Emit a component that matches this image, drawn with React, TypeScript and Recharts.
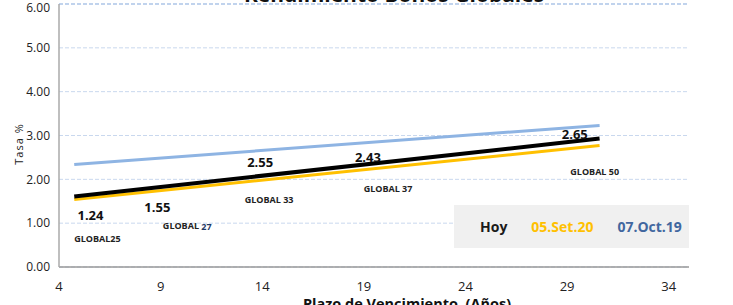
import React from "react";
import {
  ComposedChart,
  Line,
  Scatter,
  XAxis,
  YAxis,
  CartesianGrid,
  Legend,
  ReferenceLine,
} from "recharts";

// Trend lines (start / end of each curve)
const trendX = [4.75, 30.6];
const hoyVals = [1.61, 2.93];
const set20Vals = [1.54, 2.77];
const oct19Vals = [2.34, 3.23];

// Yield labels of today's bonds
const yieldText = ["1.24", "1.55", "2.55", "2.43", "2.65"];
const yieldX = [5.55, 8.84, 13.9, 19.2, 29.38];
const yieldY = [1.19, 1.37, 2.4, 2.51, 3.03];

// Bond names
const bondPrefix = ["GLOBAL25", "GLOBAL ", "GLOBAL 33", "GLOBAL 37", "GLOBAL 50"];
const bondSuffix = ["", "27", "", "", ""];
const bondX = [5.89, 10.31, 14.34, 20.19, 30.36];
const bondY = [0.66, 0.94, 1.55, 1.8, 2.19];

const xTicks = [4, 9, 14, 19, 24, 29, 34];
const yTicks = [0, 1, 2, 3, 4, 5, 6];

const seriesNames = ["Hoy", "05.Set.20", "07.Oct.19"];
const legendTextColors = ["#1a1a1a", "#FFC000", "#41679F"];

const FONT = "'Open Sans', sans-serif";

const lineData = trendX.map((x, i) => ({
  x,
  hoy: hoyVals[i],
  set20: set20Vals[i],
  oct19: oct19Vals[i],
}));

const yieldPts = yieldText.map((t, i) => ({ x: yieldX[i], y: yieldY[i], label: t }));
const bondPts = bondPrefix.map((p, i) => ({
  x: bondX[i],
  y: bondY[i],
  prefix: p,
  suffix: bondSuffix[i],
}));

const YieldShape = (props: any) => (
  <text
    x={props.cx}
    y={props.cy}
    textAnchor="middle"
    dominantBaseline="central"
    fontFamily={FONT}
    fontWeight={700}
    fontSize={13}
    fill="#111"
  >
    {props.payload.label}
  </text>
);

const BondShape = (props: any) => (
  <text
    x={props.cx}
    y={props.cy}
    textAnchor="middle"
    dominantBaseline="central"
    fontFamily={FONT}
    fontWeight={700}
    fontSize={9}
    fill="#222"
    style={{ whiteSpace: "pre" }}
  >
    {props.payload.prefix}
    {props.payload.suffix ? (
      <tspan fill="#1F3864">{props.payload.suffix}</tspan>
    ) : null}
  </text>
);

const LegendBox = () => (
  <div
    style={{
      width: 235,
      height: 43,
      background: "#F0F0F0",
      display: "flex",
      alignItems: "center",
      fontFamily: FONT,
      fontWeight: 700,
      fontSize: 14,
    }}
  >
    {seriesNames.map((n, i) => (
      <span
        key={n}
        style={{
          color: legendTextColors[i],
          marginLeft: i === 0 ? 26 : 24,
        }}
      >
        {n}
      </span>
    ))}
  </div>
);

const YLabel = () => (
  <text
    x={18}
    y={144}
    transform="rotate(-90 18 144)"
    textAnchor="middle"
    dominantBaseline="central"
    fontFamily={FONT}
    fontSize={11}
    letterSpacing={1}
    fill="#222"
  >
    Tasa %
  </text>
);

const XLabel = () => (
  <text
    x={407}
    y={309}
    textAnchor="middle"
    fontFamily={FONT}
    fontWeight={700}
    fontSize={14.5}
    fill="#111"
    style={{ whiteSpace: "pre" }}
  >
    Plazo de Vencimiento  (Años)
  </text>
);

export default function App() {
  return (
    <div
      style={{
        position: "absolute",
        left: 0,
        top: 0,
        width: 733,
        height: 305,
        overflow: "hidden",
        background: "#fff",
      }}
    >
      <div
        style={{
          position: "absolute",
          left: 0,
          width: 788,
          top: -16,
          textAlign: "center",
          fontFamily: FONT,
          fontWeight: 700,
          fontSize: 21,
          lineHeight: "21px",
          color: "#111",
          whiteSpace: "pre",
        }}
      >
        Rendimiento Bonos Globales
      </div>
      <ComposedChart
        width={733}
        height={305}
        data={lineData}
        margin={{ top: 4, right: 44, bottom: 8, left: 0 }}
        style={{ position: "absolute", left: 0, top: 0 }}
      >
        <CartesianGrid
          vertical={false}
          horizontal
          stroke="#C9D8EE"
          strokeDasharray="4 2"
          strokeWidth={1}
        />
        <ReferenceLine y={6} stroke="#9DBBE3" strokeDasharray="4 2" />
        <XAxis
          type="number"
          dataKey="x"
          domain={[4, 35]}
          ticks={xTicks}
          height={30}
          allowDataOverflow
          tickLine={false}
          tickSize={0}
          tickMargin={15}
          stroke="#999"
          strokeWidth={1.5}
          tick={{ fill: "#222", fontSize: 13, fontFamily: FONT }}
          label={<XLabel />}
        />
        <YAxis
          type="number"
          domain={[0, 6]}
          ticks={yTicks}
          width={59}
          tickLine={false}
          tickSize={0}
          tickMargin={9}
          stroke="#aaa"
          strokeWidth={1.5}
          tickFormatter={(v: number) => v.toFixed(2)}
          tick={{ fill: "#222", fontSize: 12, fontFamily: FONT }}
          label={<YLabel />}
        />
        <Line
          dataKey="oct19"
          name={seriesNames[2]}
          stroke="#8EB4E3"
          strokeWidth={3}
          dot={false}
          isAnimationActive={false}
        />
        <Line
          dataKey="set20"
          name={seriesNames[1]}
          stroke="#FFC000"
          strokeWidth={3}
          dot={false}
          isAnimationActive={false}
        />
        <Line
          dataKey="hoy"
          name={seriesNames[0]}
          stroke="#000"
          strokeWidth={4}
          dot={false}
          isAnimationActive={false}
        />
        <Scatter
          data={yieldPts}
          dataKey="y"
          shape={YieldShape}
          isAnimationActive={false}
          legendType="none"
        />
        <Scatter
          data={bondPts}
          dataKey="y"
          shape={BondShape}
          isAnimationActive={false}
          legendType="none"
        />
        <Legend
          layout="vertical"
          align="center"
          verticalAlign="middle"
          content={<LegendBox />}
          wrapperStyle={{ position: "absolute", left: 454, top: 205, width: 235, height: 43 }}
        />
      </ComposedChart>
    </div>
  );
}
